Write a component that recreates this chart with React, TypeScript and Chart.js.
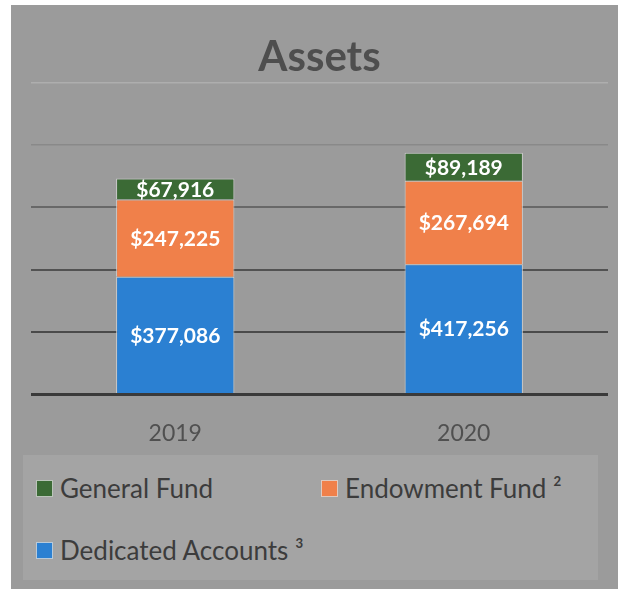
import React, { useEffect, useRef } from "react";
import { Chart, registerables } from "chart.js";

Chart.register(...registerables);

const categories = ["2019", "2020"];
const dedicatedAccounts = [377086, 417256];
const endowmentFund = [247225, 267694];
const generalFund = [67916, 89189];
const yTicks = [0, 200000, 400000, 600000, 800000, 1000000];

const seriesNames = ["Dedicated Accounts ³", "Endowment Fund ²", "General Fund"];
const seriesColors = ["#2b80d2", "#f0804a", "#3b6a35"];
const legendOrder = [2, 1, 0];

const FONT = "Lato, 'Open Sans', sans-serif";

const fmt = (v: number) => "$" + v.toLocaleString("en-US");

const labelPlugin = {
  id: "segLabels",
  afterDatasetsDraw(chart: any) {
    const ctx = chart.ctx;
    ctx.save();
    ctx.fillStyle = "#ffffff";
    ctx.font = `bold 21px ${FONT}`;
    ctx.textAlign = "center";
    ctx.textBaseline = "middle";
    chart.data.datasets.forEach((ds: any, i: number) => {
      const meta = chart.getDatasetMeta(i);
      meta.data.forEach((el: any, j: number) => {
        const p = el.getProps(["x", "y", "base"], true);
        ctx.fillText(fmt(ds.data[j]), p.x, (p.y + p.base) / 2 + 1);
      });
    });
    ctx.restore();
  },
};

function gridColor(v: number) {
  if (v === 0) return "#3a3a3a";
  if (v === 200000) return "#4a4a4a";
  if (v === 400000) return "#525252";
  if (v === 600000) return "#686868";
  if (v === 800000) return "#898989";
  return "#aeaeae";
}

export default function App() {
  const ref = useRef<HTMLCanvasElement>(null);
  useEffect(() => {
    if (!ref.current) return;
    const seriesData = [dedicatedAccounts, endowmentFund, generalFund];
    const chart = new Chart(ref.current, {
      type: "bar",
      data: {
        labels: categories,
        datasets: seriesData.map((d, i) => ({
          label: seriesNames[i],
          data: d,
          backgroundColor: seriesColors[i],
          borderColor: "rgba(215,215,215,0.85)",
          borderWidth: 1,
          categoryPercentage: 1,
          barPercentage: 0.41,
        })),
      },
      options: {
        animation: false,
        responsive: false,
        maintainAspectRatio: false,
        layout: { padding: { left: 20, right: 10, top: 0, bottom: 11 } },
        plugins: {
          legend: { display: false },
          tooltip: { enabled: false },
          title: {
            display: true,
            text: "Assets",
            color: "#4e4e4e",
            font: { family: FONT, size: 42, weight: "bold" },
            padding: { top: 27, bottom: 0 },
          },
        },
        scales: {
          x: {
            stacked: true,
            grid: { display: false, drawTicks: false },
            border: { display: false },
            ticks: {
              color: "#505050",
              font: { family: FONT, size: 23 },
              padding: 25,
            },
          },
          y: {
            stacked: true,
            min: 0,
            max: 1000000,
            afterBuildTicks: (axis: any) => {
              axis.ticks = yTicks.map((v) => ({ value: v }));
            },
            grid: {
              drawTicks: false,
              color: (c: any) => gridColor(c.tick ? c.tick.value : 0),
              lineWidth: (c: any) => {
                const v = c.tick ? c.tick.value : 0;
                if (v === 0) return 3;
                if (v >= 800000) return 1.5;
                return 2;
              },
            },
            border: { display: false },
            ticks: { display: false },
          },
        },
      },
      plugins: [labelPlugin],
    });
    return () => chart.destroy();
  }, []);

  return (
    <div style={{ position: "absolute", left: 0, top: 0, width: 618, height: 589, background: "#ffffff", overflow: "hidden" }}>
      <div style={{ position: "absolute", left: 11, top: 5, width: 607, height: 584, background: "#9b9b9b" }}>
        <div
          style={{
            position: "absolute",
            left: 12,
            top: 450,
            width: 575,
            height: 125,
            background: "#a4a4a4",
            fontFamily: FONT,
            fontSize: 26,
            color: "#3c3c3c",
          }}
        >
          {legendOrder.map((si, k) => {
            const left = k === 1 ? 298 : 13;
            const top = k === 2 ? 80 : 18;
            return (
              <div key={si} style={{ position: "absolute", left, top, display: "flex", alignItems: "center", whiteSpace: "nowrap", height: 30 }}>
                <span style={{ display: "inline-block", width: 15, height: 15, background: seriesColors[si], border: "1px solid rgba(220,220,220,0.8)", marginRight: 7 }} />
                <span>{seriesNames[si]}</span>
              </div>
            );
          })}
        </div>
        <canvas ref={ref} width={607} height={478} style={{ position: "absolute", left: 0, top: 0, width: 607, height: 478 }} />
      </div>
    </div>
  );
}
